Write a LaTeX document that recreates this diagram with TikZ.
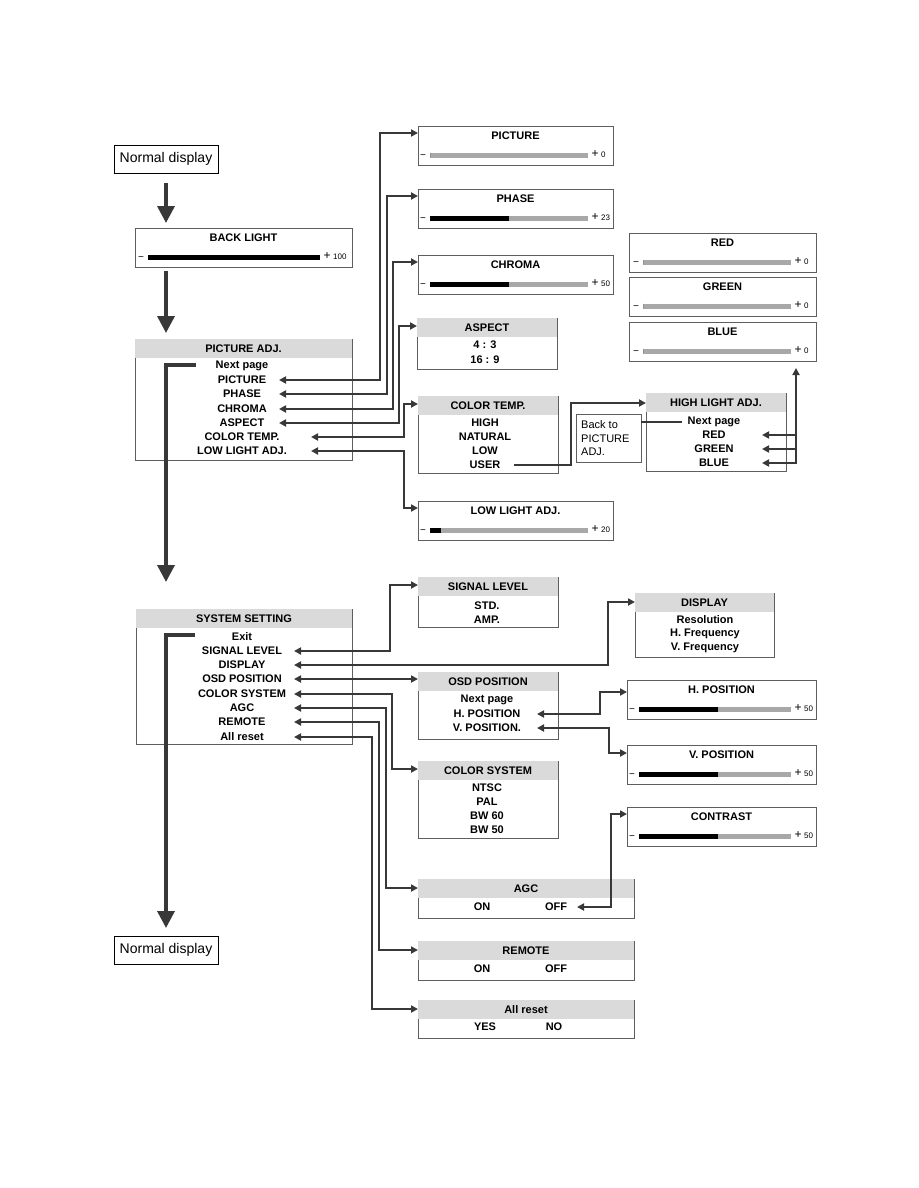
\documentclass[tikz,border=0pt]{standalone}
\usepackage{fontspec}
\setmainfont{Liberation Sans}
\usetikzlibrary{arrows.meta,calc}
\definecolor{hdrgray}{HTML}{DADADA}
\definecolor{bargray}{HTML}{A8A8A8}
\definecolor{linec}{HTML}{383838}
\definecolor{framec}{HTML}{5E5E5E}
\tikzset{
  box/.style={draw=framec, line width=0.9pt, fill=white, anchor=north west, inner sep=0pt, outer sep=0pt},
  ndbox/.style={draw=black, line width=0.9pt, fill=white, anchor=north west, inner sep=0pt, outer sep=0pt, minimum width=104pt, minimum height=28pt, font=\fontsize{14}{16}\selectfont},
  lbl/.style={font=\fontsize{11}{13.5}\selectfont\bfseries, inner sep=0pt},
  plain/.style={font=\fontsize{11}{13.5}\selectfont, inner sep=0pt},
  tiny/.style={font=\fontsize{8}{9}\selectfont, inner sep=0pt},
  minus/.style={font=\fontsize{10}{11}\selectfont, inner sep=0pt},
  plus/.style={font=\fontsize{12}{13}\selectfont, inner sep=0pt},
  conn/.style={draw=linec, line width=1.8pt, {Triangle[length=7pt,width=7pt]}-{Triangle[length=7pt,width=7pt]}},
  connR/.style={draw=linec, line width=1.8pt, -{Triangle[length=7pt,width=7pt]}},
  connL/.style={draw=linec, line width=1.8pt, {Triangle[length=7pt,width=7pt]}-},
  plainline/.style={draw=linec, line width=1.8pt},
  big/.style={draw=linec, line width=3.5pt, -{Triangle[length=17pt,width=17pt]}},
}
% slider box: name, x, y, w, title, black end x, bar end x, value, bar start x
\newcommand\slider[9]{%
  \node[box, minimum width=#4pt, minimum height=39pt] (#1) at (#2,#3) {};
  \node[lbl] (#1-t) at (#2+#4/2,#3+10) {#5};
  \fill[bargray] (#9,#3+26.5) rectangle (#7,#3+31.5);
  \fill[black] (#9,#3+26.5) rectangle (#6,#3+31.5);
  \node[minus, anchor=base] (#1-m) at (#9-7,#3+32.5) {−};
  \node[plus] (#1-p) at (#7+7,#3+28.5) {+};
  \node[tiny, anchor=west] (#1-v) at (#7+13,#3+29) {#8};
}
% menu box: name, x, y, w, h, title
\newcommand\menubox[6]{%
  \node[box, minimum width=#4pt, minimum height=#5pt] (#1) at (#2,#3) {};
  \fill[hdrgray] (#2+0.45,#3+0.45) rectangle (#2+#4-0.45,#3+19);
  \node[lbl] (#1-t) at (#2+#4/2,#3+10) {#6};
}
\begin{document}
\begin{tikzpicture}[x=1pt,y=-1pt]
\useasboundingbox (0,0) rectangle (918,1188);

% ---------- left column ----------
\node[ndbox] (nd1) at (114,145) {Normal display};
\slider{bl}{135}{228}{217}{BACK LIGHT}{320}{320}{100}{148}
\menubox{pa}{135}{339}{217}{121}{PICTURE ADJ.}
\node[lbl] (pa-1) at (242,366) {Next page};
\node[lbl] (pa-2) at (242,380) {PICTURE};
\node[lbl] (pa-3) at (242,394) {PHASE};
\node[lbl] (pa-4) at (242,409) {CHROMA};
\node[lbl] (pa-5) at (242,423) {ASPECT};
\node[lbl] (pa-6) at (242,437) {COLOR TEMP.};
\node[lbl] (pa-7) at (242,451) {LOW LIGHT ADJ.};

\menubox{ss}{136}{609}{216}{135}{SYSTEM SETTING}
\node[lbl] (ss-1) at (242,637) {Exit};
\node[lbl] (ss-2) at (242,651) {SIGNAL LEVEL};
\node[lbl] (ss-3) at (242,665) {DISPLAY};
\node[lbl] (ss-4) at (242,679) {OSD POSITION};
\node[lbl] (ss-5) at (242,694) {COLOR SYSTEM};
\node[lbl] (ss-6) at (242,708) {AGC};
\node[lbl] (ss-7) at (242,722) {REMOTE};
\node[lbl] (ss-8) at (242,737) {All reset};

\node[ndbox] (nd2) at (114,936) {Normal display};

% ---------- picture adj. sub menus ----------
\slider{pic}{418}{126}{195}{PICTURE}{430}{588}{0}{430}
\slider{pha}{418}{189}{195}{PHASE}{509}{588}{23}{430}
\slider{chr}{418}{255}{195}{CHROMA}{509}{588}{50}{430}
\menubox{asp}{417}{318}{140}{51}{ASPECT}
\node[lbl] (asp-1) at (485,345) {4 : 3};
\node[lbl] (asp-2) at (485,360) {16 : 9};
\menubox{ct}{418}{396}{140}{77}{COLOR TEMP.}
\node[lbl] (ct-1) at (485,423) {HIGH};
\node[lbl] (ct-2) at (485,437) {NATURAL};
\node[lbl] (ct-3) at (485,451) {LOW};
\node[lbl] (ct-4) at (485,465) {USER};
\slider{ll}{418}{501}{195}{LOW LIGHT ADJ.}{441}{588}{20}{430}

\slider{red}{629}{233}{187}{RED}{643}{791}{0}{643}
\slider{grn}{629}{277}{187}{GREEN}{643}{791}{0}{643}
\slider{blu}{629}{322}{187}{BLUE}{643}{791}{0}{643}
\menubox{hl}{646}{393}{140}{78}{HIGH LIGHT ADJ.}
\node[lbl] (hl-1) at (714,422) {Next page};
\node[lbl] (hl-2) at (714,435) {RED};
\node[lbl] (hl-3) at (714,449) {GREEN};
\node[lbl] (hl-4) at (714,463) {BLUE};
\node[box, minimum width=65pt, minimum height=48pt] (back) at (576,414) {};
\node[plain, align=left, anchor=west] (back-t) at (581,438.5) {Back to\\PICTURE\\ADJ.};

% ---------- system setting sub menus ----------
\menubox{sl}{418}{577}{140}{50}{SIGNAL LEVEL}
\node[lbl] (sl-1) at (487,606) {STD.};
\node[lbl] (sl-2) at (487,620) {AMP.};
\menubox{dsp}{635}{593}{139}{64}{DISPLAY}
\node[lbl] (dsp-1) at (705,620) {Resolution};
\node[lbl] (dsp-2) at (705,634) {H. Frequency};
\node[lbl] (dsp-3) at (705,648) {V. Frequency};
\menubox{osd}{418}{672}{140}{67}{OSD POSITION}
\node[lbl] (osd-1) at (487,700) {Next page};
\node[lbl] (osd-2) at (487,714) {H. POSITION};
\node[lbl] (osd-3) at (487,728) {V. POSITION.};
\slider{hp}{627}{680}{189}{H. POSITION}{718}{791}{50}{639}
\slider{vp}{627}{745}{189}{V. POSITION}{718}{791}{50}{639}
\menubox{cs}{418}{761}{140}{77}{COLOR SYSTEM}
\node[lbl] (cs-1) at (487,788) {NTSC};
\node[lbl] (cs-2) at (487,802) {PAL};
\node[lbl] (cs-3) at (487,816) {BW 60};
\node[lbl] (cs-4) at (487,830) {BW 50};
\slider{con}{627}{807}{189}{CONTRAST}{718}{791}{50}{639}
\menubox{agc}{418}{879}{216}{39}{AGC}
\node[lbl] (agc-1) at (482,907) {ON};
\node[lbl] (agc-2) at (556,907) {OFF};
\menubox{rem}{418}{941}{216}{39}{REMOTE}
\node[lbl] (rem-1) at (482,969) {ON};
\node[lbl] (rem-2) at (556,969) {OFF};
\menubox{ar}{418}{1000}{216}{38}{All reset}
\node[lbl] (ar-1) at (485,1027) {YES};
\node[lbl] (ar-2) at (554,1027) {NO};

% ---------- thick flow arrows ----------
\draw[big] ([yshift=-10pt]nd1.south) -- ([yshift=5pt]nd1.south |- bl.north);
\draw[big] ([yshift=-4pt]nd1.south |- bl.south) -- ([yshift=6pt]nd1.south |- pa.north);
\coordinate (pn) at (196,365);
\draw[big] (pn) -| ([yshift=27pt]nd1.south |- ss.north);
\coordinate (sn) at (195,635);
\draw[big] (sn) -| ([yshift=8pt]nd1.south |- nd2.north);

% ---------- picture adj. connectors ----------
\coordinate (t-pic) at (279,380);
\coordinate (t-pha) at (279,394);
\coordinate (t-chr) at (279,409);
\coordinate (t-asp) at (279,423);
\coordinate (t-ct)  at (311,437);
\coordinate (t-ll)  at (311,451);
\draw[conn] (t-pic) -- ++(101,0) |- ([yshift=-7pt]pic.north west);
\draw[conn] (t-pha) -- ++(108,0) |- ([yshift=-7pt]pha.north west);
\draw[conn] (t-chr) -- ++(114,0) |- ([yshift=-7pt]chr.north west);
\draw[conn] (t-asp) -- ++(120,0) |- ([yshift=-8pt]asp.north west);
\draw[conn] (t-ct)  -- ++(93,0)  |- ([yshift=-8pt]ct.north west);
\draw[conn] (t-ll)  -- ++(93,0)  |- ([yshift=-7pt]ll.north west);

\coordinate (u0) at (514,465);
\draw[connR] (u0) -- ++(57,0) |- ([yshift=-10pt]hl.north west);
\coordinate (hn) at (682,422);
\draw[plainline] (hn) -- (hn -| back.east);
\coordinate (t-r) at (762,435);
\coordinate (t-g) at (762,449);
\coordinate (t-b) at (762,463);
\draw[connL] (t-r) -- ++(34,0);
\draw[connL] (t-g) -- ++(34,0);
\draw[conn] (t-b) -| ([yshift=-7pt]blu.south -| 796,0);

% ---------- system setting connectors ----------
\coordinate (s-sl)  at (294,651);
\coordinate (s-dsp) at (294,665);
\coordinate (s-osd) at (294,679);
\coordinate (s-cs)  at (294,694);
\coordinate (s-agc) at (294,708);
\coordinate (s-rem) at (294,722);
\coordinate (s-ar)  at (294,737);
\draw[conn] (s-sl)  -- ++(96,0)  |- ([yshift=-8pt]sl.north west);
\draw[conn] (s-dsp) -- ++(314,0) |- ([yshift=-9pt]dsp.north west);
\draw[conn] (s-osd) -- (s-osd -| osd.west);
\draw[conn] (s-cs)  -- ++(98,0)  |- ([yshift=-8pt]cs.north west);
\draw[conn] (s-agc) -- ++(92,0)  |- ([yshift=-9pt]agc.north west);
\draw[conn] (s-rem) -- ++(85,0)  |- ([yshift=-9pt]rem.north west);
\draw[conn] (s-ar)  -- ++(78,0)  |- ([yshift=-9pt]ar.north west);

\coordinate (o-h) at (537,714);
\coordinate (o-v) at (537,728);
\draw[conn] (o-h) -- ++(63,0) |- ([yshift=-12pt]hp.north west);
\draw[conn] (o-v) -- ++(72,0) |- ([yshift=-8pt]vp.north west);
\coordinate (a-off) at (577,907);
\draw[conn] (a-off) -- ++(34,0) |- ([yshift=-7pt]con.north west);
\end{tikzpicture}
\end{document}
